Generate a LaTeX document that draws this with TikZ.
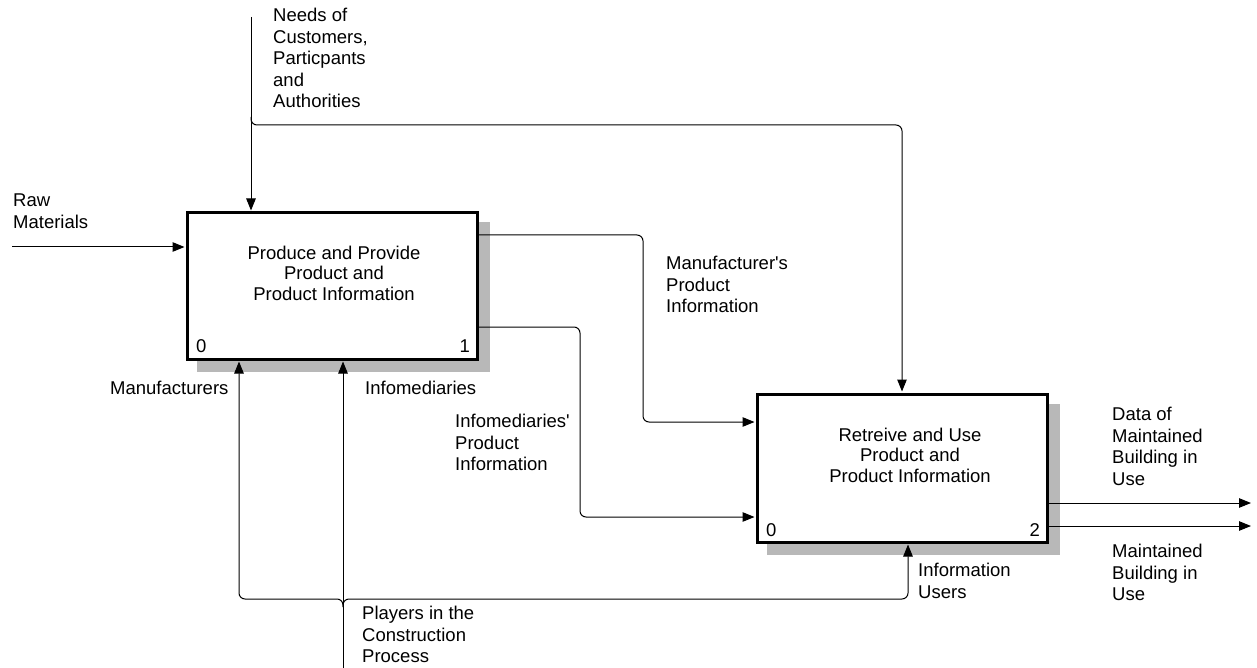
\documentclass[tikz,border=0pt]{standalone}
\usepackage{fontspec}
\setmainfont{Liberation Sans}
\usetikzlibrary{arrows.meta,backgrounds,calc}
\begin{document}
\begin{tikzpicture}[x=1pt,y=-1pt,
  lbl/.style={anchor=north west, inner sep=0pt, align=left,
    font=\fontsize{18.5}{21.5}\selectfont, execute at begin node=\strut},
  boxtext/.style={anchor=center, inner sep=0pt, align=center,
    font=\fontsize{18.5}{20.5}\selectfont},
  num/.style={inner sep=0pt, font=\fontsize{18.5}{21.5}\selectfont},
  actbox/.style={draw, line width=3pt, fill=white, inner sep=0pt},
  shadowfill/.style={fill=black!28},
  conn/.style={line width=1pt, rounded corners=6pt},
  arr/.style={conn, -{Triangle[length=12pt,width=9.5pt]}, shorten >=1pt}
]
\useasboundingbox (0,0) rectangle (1257,668);

% boxes
\node[actbox, minimum width=290pt, minimum height=146pt] (b1) at (332,286) {};
\node[actbox, minimum width=290pt, minimum height=148pt] (b2) at (902,468) {};
\begin{scope}[on background layer]
  \fill[shadowfill] ($(b1.north west)+(11,11)$) rectangle ($(b1.south east)+(11,11)$);
  \fill[shadowfill] ($(b2.north west)+(11,11)$) rectangle ($(b2.south east)+(11,11)$);
\end{scope}

\node[boxtext] (t1) at (334,273) {Produce and Provide\\Product and\\Product Information};
\node[boxtext] (t2) at (910,455) {Retreive and Use\\Product and\\Product Information};
\node[num, anchor=base west] (n1a) at (196,352) {0};
\node[num, anchor=base east] (n1b) at (470,352) {1};
\node[num, anchor=base west] (n2a) at (766,536) {0};
\node[num, anchor=base east] (n2b) at (1040,536) {2};

% coordinates
\coordinate (needs) at (251,17);
\coordinate (jn) at (251,125);
\coordinate (jnup) at (251,117);
\coordinate (raw) at (12,247);
\coordinate (o1a) at (643,235);
\coordinate (o1b) at (643,422);
\coordinate (o2a) at (580,327);
\coordinate (o2b) at (580,517);
\coordinate (out1) at (1252,503);
\coordinate (out2) at (1252,526);
\coordinate (m1) at (239,599);
\coordinate (mj) at (343,599);
\coordinate (mjdn) at (343,607);
\coordinate (m2) at (343,668);
\coordinate (m3) at (908,599);

% connectors
\draw[arr] (needs) -- (needs |- b1.north);
\draw[arr] (jnup) -- (jn) -- (jn -| b2.north) -- (b2.north);
\draw[arr] (raw) -- (raw -| b1.west);
\draw[arr] (b1.east |- o1a) -- (o1a) -- (o1b) -- (o1b -| b2.west);
\draw[arr] (b1.east |- o2a) -- (o2a) -- (o2b) -- (o2b -| b2.west);
\draw[arr] (b2.east |- out1) -- (out1);
\draw[arr] (b2.east |- out2) -- (out2);
\draw[arr] (m2) -- (m2 |- b1.south);
\draw[arr] (mjdn) -- (mj) -- (m1) -- (m1 |- b1.south);
\draw[arr] (mjdn) -- (mj) -- (m3) -- (m3 |- b2.south);

% labels
\node[lbl] (lneeds) at (273,8.3) {Needs of\\Customers,\\Particpants\\and\\Authorities};
\node[lbl] (lraw) at (13,194) {Raw\\Materials};
\node[lbl] (lman) at (110,379) {Manufacturers};
\node[lbl] (linf) at (365,379) {Infomediaries};
\node[lbl] (lmpi) at (666,256) {Manufacturer\textquotesingle s\\Product\\Information};
\node[lbl] (lipi) at (455,414) {Infomediaries\textquotesingle\\Product\\Information};
\node[lbl] (ldata) at (1112,407) {Data of\\Maintained\\Building in\\Use};
\node[lbl] (lmb) at (1112,544) {Maintained\\Building in\\Use};
\node[lbl] (liu) at (918,563) {Information\\Users};
\node[lbl] (lpl) at (362,606) {Players in the\\Construction\\Process};
\end{tikzpicture}
\end{document}
